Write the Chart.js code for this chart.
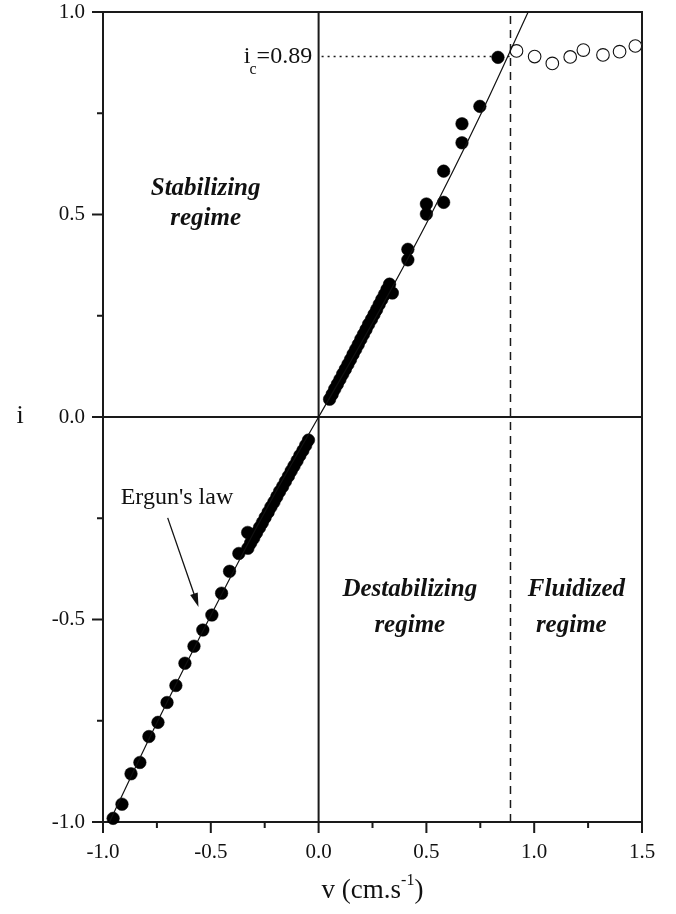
<!DOCTYPE html>
<html>
<head>
<meta charset="utf-8">
<script src="https://cdn.jsdelivr.net/npm/chart.js@4.4.1/dist/chart.umd.min.js"></script>
<style>
  html, body { margin: 0; padding: 0; background: #fff; }
  #wrap { width: 676px; height: 914px; }
</style>
</head>
<body>
<div id="wrap"><canvas id="ergun" width="676" height="914"></canvas></div>
<script>
// measured points, closed symbols (v in cm/s, i)
const filledV = [
  -0.953, -0.912, -0.870, -0.829, -0.787, -0.745, -0.703, -0.662, -0.620, -0.578,
  -0.537, -0.495, -0.450, -0.413, -0.370, -0.329,
  -0.328, -0.315, -0.301, -0.288, -0.274, -0.261, -0.248, -0.234, -0.221, -0.207,
  -0.194, -0.181, -0.167, -0.154, -0.140, -0.127, -0.114, -0.100, -0.087, -0.073,
  -0.060, -0.047,
  0.051, 0.063, 0.075, 0.087, 0.099, 0.112, 0.124, 0.136, 0.148, 0.160,
  0.172, 0.184, 0.196, 0.208, 0.220, 0.232, 0.245, 0.257, 0.269, 0.281,
  0.293, 0.305, 0.317, 0.329, 0.342,
  0.414, 0.414, 0.500, 0.500, 0.580, 0.580, 0.665, 0.665, 0.748, 0.832
];
const filledI = [
  -0.991, -0.956, -0.881, -0.853, -0.789, -0.754, -0.705, -0.663, -0.608, -0.566,
  -0.526, -0.489, -0.435, -0.381, -0.337, -0.285,
  -0.324, -0.311, -0.299, -0.286, -0.273, -0.261, -0.248, -0.235, -0.222, -0.210,
  -0.197, -0.184, -0.172, -0.159, -0.146, -0.133, -0.121, -0.108, -0.095, -0.083,
  -0.070, -0.057,
  0.044, 0.056, 0.069, 0.081, 0.093, 0.106, 0.118, 0.130, 0.142, 0.155,
  0.167, 0.179, 0.192, 0.204, 0.216, 0.229, 0.241, 0.253, 0.265, 0.278,
  0.290, 0.302, 0.315, 0.328, 0.306,
  0.388, 0.414, 0.501, 0.526, 0.530, 0.607, 0.677, 0.724, 0.767, 0.888
];

// fluidized points, open symbols
const openV = [0.918, 1.002, 1.084, 1.167, 1.228, 1.319, 1.396, 1.469];
const openI = [0.904, 0.890, 0.873, 0.889, 0.906, 0.894, 0.902, 0.916];

// Ergun's law curve
const ergunV = [-0.970, -0.750, -0.500, -0.250, 0.000, 0.250, 0.500, 0.750, 0.972];
const ergunI = [-1.000, -0.755, -0.490, -0.235, 0.000, 0.232, 0.478, 0.745, 1.000];

const vCrit = 0.89;
const iCrit = 0.89;

const xMin = -1.0, xMax = 1.5, yMin = -1.0, yMax = 1.0;
const tickStep = 0.25;

const toPts = (xs, ys) => xs.map((x, k) => ({x: x, y: ys[k]}));
const isMajor = v => Math.abs(v * 2 - Math.round(v * 2)) < 1e-6;

Chart.defaults.font.family = "'Liberation Serif', 'Times New Roman', serif";
Chart.defaults.color = '#111';

const serif = "'Liberation Serif', 'Times New Roman', serif";
const ink = '#1a1a1a';

const overlay = {
  id: 'overlay',
  beforeDatasetsDraw(chart) {
    const c = chart.ctx, a = chart.chartArea;
    const xs = chart.scales.x, ys = chart.scales.y;
    c.save();
    c.strokeStyle = ink;

    // zero lines
    c.lineWidth = 2;
    c.beginPath();
    c.moveTo(xs.getPixelForValue(0), a.top);
    c.lineTo(xs.getPixelForValue(0), a.bottom);
    c.moveTo(a.left, ys.getPixelForValue(0));
    c.lineTo(a.right, ys.getPixelForValue(0));
    c.stroke();

    // critical velocity (dashed) and critical gradient (dotted)
    c.lineWidth = 1.5;
    c.setLineDash([8, 6]);
    c.beginPath();
    c.moveTo(xs.getPixelForValue(vCrit), a.bottom);
    c.lineTo(xs.getPixelForValue(vCrit), a.top);
    c.stroke();
    c.setLineDash([2, 4]);
    c.beginPath();
    c.moveTo(xs.getPixelForValue(0) + 3, ys.getPixelForValue(iCrit));
    c.lineTo(xs.getPixelForValue(vCrit), ys.getPixelForValue(iCrit));
    c.stroke();
    c.setLineDash([]);

    // frame
    c.lineWidth = 2;
    c.strokeRect(a.left, a.top, a.right - a.left, a.bottom - a.top);

    // tick marks, long on labelled values
    c.beginPath();
    xs.ticks.forEach(t => {
      const px = xs.getPixelForValue(t.value);
      const len = isMajor(t.value) ? 11 : 6;
      c.moveTo(px, a.bottom);
      c.lineTo(px, a.bottom + len);
    });
    ys.ticks.forEach(t => {
      const py = ys.getPixelForValue(t.value);
      const len = isMajor(t.value) ? 11 : 6;
      c.moveTo(a.left, py);
      c.lineTo(a.left - len, py);
    });
    c.stroke();
    c.restore();
  },
  afterDraw(chart) {
    const c = chart.ctx, a = chart.chartArea;
    const xs = chart.scales.x, ys = chart.scales.y;
    const X = v => xs.getPixelForValue(v), Y = v => ys.getPixelForValue(v);
    c.save();
    c.fillStyle = '#111';
    c.strokeStyle = '#111';

    // regime labels
    c.font = 'italic bold 25px ' + serif;
    c.textAlign = 'center';
    c.textBaseline = 'middle';
    c.fillText('Stabilizing', X(-0.524), Y(0.565));
    c.fillText('regime', X(-0.524), Y(0.491));
    c.fillText('Destabilizing', X(0.423), Y(-0.427));
    c.fillText('regime', X(0.423), Y(-0.514));
    c.fillText('Fluidized', X(1.196), Y(-0.427));
    c.fillText('regime', X(1.172), Y(-0.514));

    // i_c = 0.89
    c.font = '24px ' + serif;
    c.textAlign = 'right';
    const rx = X(-0.03), ry = Y(iCrit);
    c.fillText('=' + iCrit.toFixed(2), rx, ry);
    const w1 = c.measureText('=' + iCrit.toFixed(2)).width;
    c.font = '16px ' + serif;
    c.fillText('c', rx - w1, ry + 13);
    const w2 = c.measureText('c').width;
    c.font = '24px ' + serif;
    c.fillText('i', rx - w1 - w2 + 1, ry);

    // Ergun's law label and arrow
    c.textAlign = 'left';
    c.font = '24px ' + serif;
    c.fillText("Ergun's law", X(-0.918), Y(-0.200));
    const x0 = X(-0.700), y0 = Y(-0.249), x1 = X(-0.557), y1 = Y(-0.469);
    const ang = Math.atan2(y1 - y0, x1 - x0);
    c.lineWidth = 1.3;
    c.beginPath();
    c.moveTo(x0, y0);
    c.lineTo(x1 - 10 * Math.cos(ang), y1 - 10 * Math.sin(ang));
    c.stroke();
    c.beginPath();
    c.moveTo(x1, y1);
    c.lineTo(x1 - 14 * Math.cos(ang) + 4 * Math.sin(ang), y1 - 14 * Math.sin(ang) - 4 * Math.cos(ang));
    c.lineTo(x1 - 14 * Math.cos(ang) - 4 * Math.sin(ang), y1 - 14 * Math.sin(ang) + 4 * Math.cos(ang));
    c.closePath();
    c.fill();

    // axis titles
    c.font = '26px ' + serif;
    c.textAlign = 'center';
    c.fillText('i', 20, Y(0) - 1);

    const cx = (a.left + a.right) / 2, ty = 891;
    const main = 'v (cm.s', sup = '-1', tail = ')';
    c.font = '27px ' + serif;
    const wm = c.measureText(main).width, wt = c.measureText(tail).width;
    c.font = '16px ' + serif;
    const ws = c.measureText(sup).width;
    const sx = cx - (wm + ws + wt) / 2;
    c.textAlign = 'left';
    c.font = '27px ' + serif;
    c.fillText(main, sx, ty);
    c.font = '16px ' + serif;
    c.fillText(sup, sx + wm, ty - 10);
    c.font = '27px ' + serif;
    c.fillText(tail, sx + wm + ws, ty);
    c.restore();
  }
};

new Chart(document.getElementById('ergun'), {
  type: 'scatter',
  data: {
    datasets: [
      {
        label: 'Ergun',
        type: 'line',
        data: toPts(ergunV, ergunI),
        borderColor: '#111',
        borderWidth: 1.2,
        pointRadius: 0,
        fill: false,
        cubicInterpolationMode: 'monotone',
        order: 0
      },
      {
        label: 'closed',
        data: toPts(filledV, filledI),
        pointRadius: 6.3,
        backgroundColor: '#000',
        borderColor: '#000',
        borderWidth: 0.5,
        clip: false,
        order: 1
      },
      {
        label: 'open',
        data: toPts(openV, openI),
        pointRadius: 6.3,
        backgroundColor: '#fff',
        borderColor: '#111',
        borderWidth: 1.1,
        clip: false,
        order: 1
      }
    ]
  },
  options: {
    responsive: false,
    animation: false,
    events: [],
    layout: { padding: { top: 12, right: 34, left: 0, bottom: 0 } },
    plugins: { legend: { display: false }, tooltip: { enabled: false } },
    scales: {
      x: {
        type: 'linear',
        min: xMin, max: xMax,
        border: { display: false },
        grid: { display: false, drawTicks: false },
        ticks: {
          stepSize: tickStep,
          autoSkip: false,
          maxRotation: 0,
          padding: 18,
          font: { size: 21 },
          callback: v => isMajor(v) ? v.toFixed(1) : ''
        },
        afterFit: s => { s.height = 92; s.paddingLeft = 0; s.paddingRight = 0; }
      },
      y: {
        type: 'linear',
        min: yMin, max: yMax,
        border: { display: false },
        grid: { display: false, drawTicks: false },
        ticks: {
          stepSize: tickStep,
          autoSkip: false,
          padding: 18,
          font: { size: 21 },
          callback: v => isMajor(v) ? v.toFixed(1) : ''
        },
        afterFit: s => { s.width = 103; s.paddingTop = 0; s.paddingBottom = 0; }
      }
    }
  },
  plugins: [overlay]
});
</script>
</body>
</html>
